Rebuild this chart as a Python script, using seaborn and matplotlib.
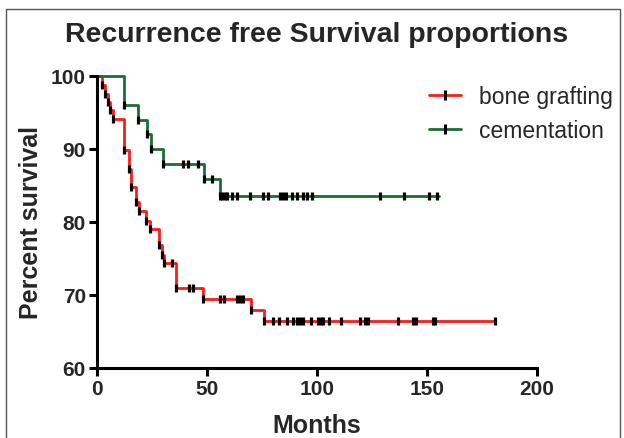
import numpy as np
import pandas as pd
import matplotlib
matplotlib.use("Agg")
import matplotlib.pyplot as plt
from matplotlib.lines import Line2D
from matplotlib.patches import Rectangle
import seaborn as sns

# ---- data ----
red_label = "bone grafting"
green_label = "cementation"

red_times = [0, 2.4, 3.6, 4.9, 6.0, 7.1, 12.3, 14.5, 15.6, 17.8, 19.1, 22.2, 24.1,
             28.3, 29.5, 30.6, 36.0, 48.2, 69.9, 76.0]
red_surv = [100, 98.8, 97.6, 96.5, 95.3, 94.1, 89.8, 87.3, 84.8, 82.8, 81.5, 80.2, 79.0,
            76.8, 75.5, 74.4, 70.9, 69.5, 67.9, 66.5]
red_end = 181.0
red_censor = [2.4, 3.6, 4.9, 6.0, 7.1, 12.3, 14.5, 15.6, 17.8, 19.1, 22.2, 24.1, 28.3,
              29.5, 30.6, 33.9, 36.0, 42.0, 43.8, 48.2, 55.9, 57.7, 63.8, 65.0, 66.5,
              69.9, 76.0, 80.2, 82.9, 86.2, 88.9, 90.8, 92.3, 93.8, 97.1, 100.3, 101.7,
              102.9, 105.6, 110.8, 119.5, 121.8, 123.3, 137.0, 143.8, 144.9, 152.9,
              153.8, 181.0]

green_times = [0, 12.4, 18.8, 22.6, 24.5, 30.0, 48.8, 56.0]
green_surv = [100, 96.0, 94.0, 92.0, 90.0, 88.0, 85.9, 83.5]
green_end = 155.6
green_censor = [12.4, 18.8, 22.6, 24.5, 30.0, 39.0, 41.5, 46.0, 48.8, 52.4, 56.0, 57.0,
                58.2, 59.2, 61.3, 63.5, 69.5, 75.6, 77.9, 83.0, 84.4, 86.0, 88.6, 90.8,
                93.6, 95.5, 97.7, 128.5, 139.7, 150.9, 154.7]

x_ticks = [0, 50, 100, 150, 200]
y_ticks = [60, 70, 80, 90, 100]

RED = "#ff1a1a"
GREEN = "#1f6b35"

# ---- build tables ----
def step_frame(times, surv, end, label):
    t = list(times) + [end]
    s = list(surv) + [surv[-1]]
    return pd.DataFrame({"Months": t, "Percent": s, "group": label})

def censor_frame(times, surv, cens, label):
    idx = np.searchsorted(np.array(times), np.array(cens), side="right") - 1
    return pd.DataFrame({"Months": cens, "Percent": np.array(surv)[idx], "group": label})

steps = pd.concat([step_frame(red_times, red_surv, red_end, red_label),
                   step_frame(green_times, green_surv, green_end, green_label)],
                  ignore_index=True)
cens = pd.concat([censor_frame(red_times, red_surv, red_censor, red_label),
                  censor_frame(green_times, green_surv, green_censor, green_label)],
                 ignore_index=True)

sns.set_theme(style="white")
plt.rcParams["font.family"] = ["Liberation Sans", "DejaVu Sans"]

fig = plt.figure(figsize=(6.24, 4.39), dpi=100)
ax = fig.add_axes([97 / 624, 70 / 439, 440 / 624, 292 / 439])

sns.lineplot(data=steps, x="Months", y="Percent", hue="group",
             palette={red_label: RED, green_label: GREEN},
             estimator=None, sort=False, drawstyle="steps-post",
             linewidth=2.0, legend=False, ax=ax, clip_on=False, zorder=2)
sns.scatterplot(data=cens, x="Months", y="Percent", marker="|", color="black",
                s=40, linewidth=2.3, legend=False, ax=ax, clip_on=False, zorder=3)

ax.set_xlim(0, 200)
ax.set_ylim(60, 100)
ax.set_xticks(x_ticks)
ax.set_yticks(y_ticks)
ax.set_xticklabels([str(v) for v in x_ticks], fontweight="bold", fontsize=15)
ax.set_yticklabels([str(v) for v in y_ticks], fontweight="bold", fontsize=15)
ax.tick_params(axis="both", direction="out", length=6, width=2.2, color="black",
               pad=2, bottom=True, left=True)
for side in ["top", "right"]:
    ax.spines[side].set_visible(False)
for side in ["left", "bottom"]:
    ax.spines[side].set_color("black")
    ax.spines[side].set_linewidth(2.2)

ax.set_xlabel("Months", fontweight="bold", fontsize=18, labelpad=11)
ax.set_ylabel("Percent survival", fontweight="bold", fontsize=18, labelpad=6)

fig.text(317 / 624, 1 - 35 / 439, "Recurrence free Survival proportions",
         ha="center", va="center", fontweight="bold", fontsize=20.5)

handles = [Line2D([0], [0], color=RED, lw=2.0, marker="|", markersize=7,
                  markeredgecolor="black", markeredgewidth=2.2),
           Line2D([0], [0], color=GREEN, lw=2.0, marker="|", markersize=7,
                  markeredgecolor="black", markeredgewidth=2.2)]
fig.legend(handles, [red_label, green_label], loc="upper left",
           bbox_to_anchor=(429 / 624, 1 - 86 / 439), frameon=False,
           fontsize=16.5, handlelength=1.4, handletextpad=0.8, labelspacing=0.5,
           borderpad=0, borderaxespad=0)

fig.patches.append(Rectangle((5.5 / 624, -0.1), 614 / 624, 1.1 - 10.5 / 439,
                             transform=fig.transFigure, fill=False,
                             edgecolor="#555555", linewidth=1.0))

fig.savefig("out.png", dpi=100, facecolor="white")
